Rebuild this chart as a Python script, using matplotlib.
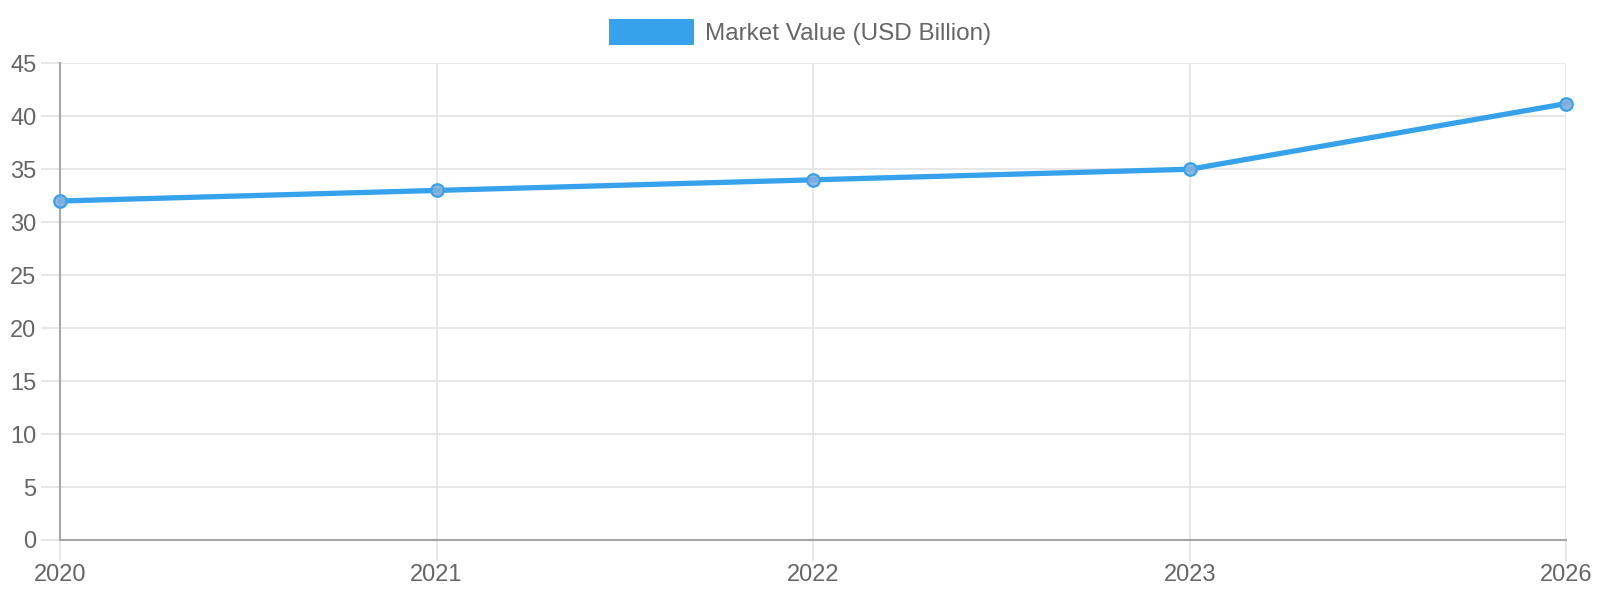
import matplotlib.pyplot as plt

years = ["2020", "2021", "2022", "2023", "2026"]
market_value = [32, 33, 34, 35, 41.2]
y_ticks = [0, 5, 10, 15, 20, 25, 30, 35, 40, 45]

LINE_COLOR = "#36A2EB"
GRID_COLOR = "#e3e3e3"
AXIS_COLOR = "#a6a6a6"
TEXT_COLOR = "#666666"

plt.rcParams["font.family"] = ["Liberation Sans", "DejaVu Sans"]

fig = plt.figure(figsize=(16, 6), dpi=100)
ax = fig.add_axes([0.0375, 0.1, 0.9415, 0.7945])

x = list(range(len(years)))
ax.plot(x, market_value, color=LINE_COLOR, linewidth=3.8, zorder=3,
        clip_on=False)
ax.plot(x, market_value, linestyle="none", marker="o", markersize=9,
        markerfacecolor=(0.53, 0.69, 0.86, 0.9), markeredgecolor=LINE_COLOR,
        markeredgewidth=1.6, zorder=4, clip_on=False)

ax.set_xlim(0, len(years) - 1)
ax.set_ylim(0, 45)
ax.set_xticks(x)
ax.set_xticklabels(years)
ax.set_yticks(y_ticks)

ax.grid(True, color=GRID_COLOR, linewidth=1.2, zorder=0)
ax.tick_params(axis="both", colors=GRID_COLOR, labelcolor=TEXT_COLOR,
               labelsize=17, length=14, width=1.2)
ax.tick_params(axis="x", length=15, pad=2)
ax.tick_params(axis="y", pad=3)

for side in ["top", "right"]:
    ax.spines[side].set_visible(False)
for side in ["left", "bottom"]:
    ax.spines[side].set_color(AXIS_COLOR)
    ax.spines[side].set_linewidth(1.5)

handle = plt.Rectangle((0, 0), 1, 1, facecolor=LINE_COLOR, edgecolor="none")
fig.legend([handle], ["Market Value (USD Billion)"], loc="center",
           bbox_to_anchor=(0.5, 0.946), frameon=False,
           fontsize=17.5, labelcolor=TEXT_COLOR, handlelength=3.5,
           handleheight=1.25, handletextpad=0.45)

fig.savefig("out.png", dpi=100, facecolor="white")
